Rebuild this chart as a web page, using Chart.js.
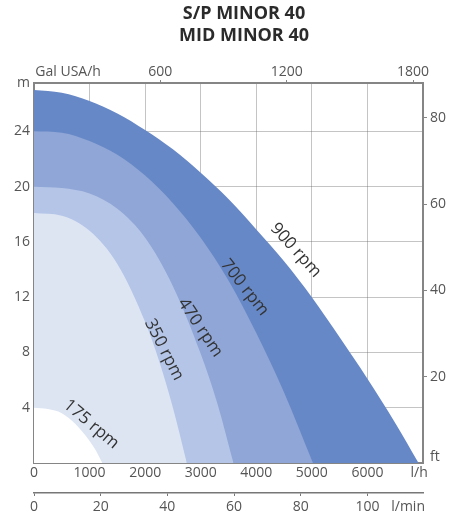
<!DOCTYPE html>
<html><head><meta charset="utf-8">
<script src="https://cdn.jsdelivr.net/npm/chart.js@4/dist/chart.umd.min.js"></script>
<style>html,body{margin:0;padding:0;background:#fff}canvas{display:block}</style>
</head><body>
<canvas id="c" width="453" height="519"></canvas>
<script>
// ---- data (flow in l/h, head in m) ----
const titleLines = ['S/P MINOR 40', 'MID MINOR 40'];
const speeds = ['900 rpm', '700 rpm', '470 rpm', '350 rpm', '175 rpm'];

const flow900 = [0, 500, 1000, 1500, 2000, 2500, 3000, 3500, 4000, 4500, 5000, 5500, 6000, 6500, 6920];
const head900 = [27, 26.8, 26.2, 25.3, 24.1, 22.7, 21.0, 19.1, 16.9, 14.6, 12.0, 9.1, 6.1, 2.9, 0];

const flow700 = [0, 500, 1000, 1500, 2000, 2500, 3000, 3500, 4000, 4500, 5020];
const head700 = [24, 23.9, 23.3, 22.3, 20.8, 18.8, 16.3, 13.2, 9.4, 5.1, 0];

const flow470 = [0, 500, 1000, 1500, 2000, 2500, 3000, 3300, 3590];
const head470 = [20, 19.9, 19.5, 18.4, 16.3, 12.8, 7.9, 4.3, 0];

const flow350 = [0, 500, 1000, 1500, 2000, 2250, 2500, 2750];
const head350 = [18.1, 17.9, 16.8, 14.4, 10.2, 7.4, 4.0, 0];

const flow175 = [0, 250, 500, 750, 1000, 1100, 1230];
const head175 = [4.0, 3.9, 3.6, 2.8, 1.6, 1.0, 0];

// ---- tick labels ----
const lhTicks = [0, 1000, 2000, 3000, 4000, 5000, 6000];
const lminTicks = [0, 20, 40, 60, 80, 100];
const galTicks = [600, 1200, 1800];
const mTicks = [4, 8, 12, 16, 20, 24];
const ftTicks = [20, 40, 60, 80];
const unitLabels = { lh: 'l/h', lmin: 'l/min', gal: 'Gal USA/h', m: 'm', ft: 'ft' };

// ---- ranges ----
const flowMax = 7000, headMax = 27.5, galMax = 1847, lminMax = 116.67, ftMax = 88.1;

// ---- placement / style (not data) ----
const unitAt = { lh: 6930, lmin: 112.2, gal: 162, m: 27.5, ft: 1.3 };
const labelPlace = [
  { q: 4710, h: 15.4, angle: 48 },
  { q: 3790, h: 12.7, angle: 52 },
  { q: 2990, h: 9.8, angle: 56 },
  { q: 2340, h: 8.2, angle: 63 },
  { q: 1030, h: 2.8, angle: 40 }
];
const titlePlace = { x: 244, y0: 14, dy: 21.5 };
const bandColors = ['#6788c7', '#8fa6d6', '#b5c5e7', '#dde5f3', '#ffffff'];

const FONT = '"Open Sans", "DejaVu Sans", sans-serif';
const gridCol = 'rgba(100,100,100,0.38)';
const axisCol = '#858585';
const tickCol = '#555';
const tickFont = { family: FONT, size: 14 };

const curves = [
  [flow900, head900], [flow700, head700], [flow470, head470], [flow350, head350], [flow175, head175]
];

// datasets: index 0 is drawn last (on top), so put the innermost curve first
const datasets = curves.map((c, i) => ({
  label: speeds[i],
  data: c[0].map((q, k) => ({ x: q, y: c[1][k] })),
  backgroundColor: bandColors[i],
  borderColor: 'rgba(0,0,0,0)',
  borderWidth: 0,
  fill: 'origin',
  pointRadius: 0,
  cubicInterpolationMode: 'monotone'
})).reverse();

const withUnit = (list, u) => list.map(v => ({ value: v })).concat([{ value: u }]);

const textLayer = {
  id: 'textLayer',
  afterDraw(chart) {
    const { ctx } = chart;
    const xs = chart.scales.x, ys = chart.scales.y;
    ctx.save();
    ctx.textAlign = 'center';
    ctx.textBaseline = 'middle';
    // title
    ctx.font = 'bold 18px ' + FONT;
    ctx.fillStyle = '#2b2b2b';
    titleLines.forEach((t, i) => ctx.fillText(t, titlePlace.x, titlePlace.y0 + i * titlePlace.dy));
    // curve labels
    ctx.font = '17px ' + FONT;
    ctx.fillStyle = '#333';
    labelPlace.forEach((p, i) => {
      ctx.save();
      ctx.translate(xs.getPixelForValue(p.q), ys.getPixelForValue(p.h));
      ctx.rotate(p.angle * Math.PI / 180);
      ctx.fillText(speeds[i], 0, 0);
      ctx.restore();
    });
    ctx.restore();
  }
};

new Chart(document.getElementById('c'), {
  type: 'line',
  data: { datasets },
  options: {
    responsive: false,
    animation: false,
    devicePixelRatio: 1,
    layout: { padding: { top: 45.5, left: 0, right: 0, bottom: 0 } },
    plugins: {
      legend: { display: false },
      tooltip: { enabled: false },
      title: { display: false }
    },
    scales: {
      x: {
        type: 'linear', position: 'bottom', min: 0, max: flowMax, weight: 0, z: 1,
        afterBuildTicks: s => { s.ticks = withUnit(lhTicks, unitAt.lh); },
        ticks: { callback: v => v === unitAt.lh ? unitLabels.lh : String(v), font: tickFont, color: tickCol, padding: 2, maxRotation: 0, autoSkip: false },
        grid: { color: c => (c.tick && (c.tick.value === 0 || c.tick.value === unitAt.lh)) ? 'rgba(0,0,0,0)' : gridCol, drawTicks: false },
        border: { color: axisCol, width: 2 },
        afterFit: s => { s.height = 30; }
      },
      lmin: {
        type: 'linear', position: 'bottom', min: 0, max: lminMax, weight: 1, z: 1,
        afterBuildTicks: s => { s.ticks = withUnit(lminTicks, unitAt.lmin); },
        ticks: { callback: v => v === unitAt.lmin ? unitLabels.lmin : String(v), font: tickFont, color: tickCol, padding: 3, maxRotation: 0, autoSkip: false },
        grid: { drawOnChartArea: false, tickLength: 3, tickColor: c => (c.tick && c.tick.value === unitAt.lmin) ? 'rgba(0,0,0,0)' : '#777' },
        border: { color: '#777', width: 1.5 },
        afterFit: s => { s.height = 26; }
      },
      gal: {
        type: 'linear', position: 'top', min: 0, max: galMax, z: 1,
        afterBuildTicks: s => { s.ticks = withUnit(galTicks, unitAt.gal); },
        ticks: { callback: v => v === unitAt.gal ? unitLabels.gal : String(v), font: tickFont, color: tickCol, padding: 0, maxRotation: 0, autoSkip: false },
        grid: { drawOnChartArea: false, tickLength: 3, tickColor: c => (c.tick && c.tick.value === unitAt.gal) ? 'rgba(0,0,0,0)' : axisCol },
        border: { color: axisCol, width: 2 },
        afterFit: s => { s.height = 37.5; }
      },
      y: {
        type: 'linear', position: 'left', min: 0, max: headMax, z: 1,
        afterBuildTicks: s => { s.ticks = withUnit(mTicks, unitAt.m); },
        ticks: { callback: v => v === unitAt.m ? unitLabels.m : String(v), font: tickFont, color: tickCol, padding: 4, autoSkip: false },
        grid: { color: c => (c.tick && c.tick.value === unitAt.m) ? 'rgba(0,0,0,0)' : gridCol, drawTicks: false },
        border: { color: axisCol, width: 2 },
        afterFit: s => { s.width = 34; }
      },
      ft: {
        type: 'linear', position: 'right', min: 0, max: ftMax, z: 1,
        afterBuildTicks: s => { s.ticks = withUnit(ftTicks, unitAt.ft); },
        ticks: { callback: v => v === unitAt.ft ? unitLabels.ft : String(v), font: tickFont, color: tickCol, padding: 3, autoSkip: false },
        grid: { drawOnChartArea: false, tickLength: 4, tickColor: c => (c.tick && c.tick.value === unitAt.ft) ? 'rgba(0,0,0,0)' : axisCol },
        border: { color: axisCol, width: 2 },
        afterFit: s => { s.width = 30; }
      }
    }
  },
  plugins: [textLayer]
});
</script>
</body></html>
